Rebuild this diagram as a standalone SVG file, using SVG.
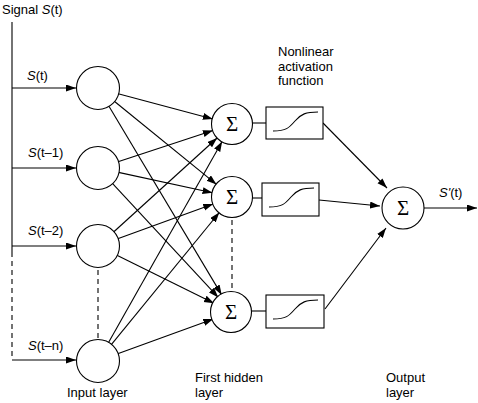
<svg xmlns="http://www.w3.org/2000/svg" width="478" height="403" viewBox="0 0 478 403">
<style>
  .ln { stroke:#000; stroke-width:1.1; fill:none; }
  .arr { stroke:#000; stroke-width:1.1; fill:none; marker-end:url(#ah); }
  .dash { stroke:#000; stroke-width:1.1; fill:none; stroke-dasharray:5,4; }
  .node { stroke:#000; stroke-width:1.1; fill:#fff; }
  .t { font-family:"Liberation Sans", Arial, sans-serif; font-size:13px; fill:#000; }
  .sig { font-family:"Liberation Serif", "DejaVu Serif", serif; font-size:21px; fill:#000; text-anchor:middle; }
</style>
<defs>
  <marker id="ah" markerUnits="userSpaceOnUse" markerWidth="11" markerHeight="8" refX="10" refY="3.5" orient="auto">
    <path d="M0,0 L10,3.5 L0,7 z" fill="#000"/>
  </marker>
  <path id="sigm" d="M7,24 C20,24 23,21 29,14 C35,7 40,5 52,5" stroke="#000" stroke-width="1.1" fill="none"/>
</defs>

<text class="t" x="2" y="14">Signal <tspan font-style="italic">S</tspan>(t)</text>

<g id="connectors">
  <line class="ln" x1="12" y1="22" x2="12" y2="252"/>
  <line class="dash" x1="12" y1="252" x2="12" y2="360"/>
  <line class="arr" x1="12" y1="88" x2="76" y2="88"/>
  <line class="arr" x1="12" y1="168" x2="76" y2="168"/>
  <line class="arr" x1="12" y1="246" x2="76" y2="246"/>
  <line class="arr" x1="12" y1="360" x2="76" y2="360"/>
  <line class="dash" x1="98" y1="270" x2="98" y2="338"/>
  <line class="dash" x1="232" y1="220" x2="232" y2="290"/>

  <line class="arr" x1="118.2" y1="93.7" x2="212.8" y2="119.0"/>
  <line class="arr" x1="114.3" y1="101.3" x2="216.5" y2="184.4"/>
  <line class="arr" x1="108.8" y1="106.0" x2="221.7" y2="294.9"/>
  <line class="arr" x1="118.0" y1="161.7" x2="212.9" y2="130.5"/>
  <line class="arr" x1="118.5" y1="172.4" x2="212.5" y2="192.8"/>
  <line class="arr" x1="112.4" y1="183.3" x2="218.3" y2="297.4"/>
  <line class="arr" x1="113.6" y1="232.0" x2="217.1" y2="138.0"/>
  <line class="arr" x1="117.7" y1="238.8" x2="213.2" y2="203.9"/>
  <line class="arr" x1="116.9" y1="255.2" x2="214.0" y2="303.3"/>
  <line class="arr" x1="108.4" y1="342.8" x2="222.1" y2="141.6"/>
  <line class="arr" x1="111.3" y1="344.7" x2="219.3" y2="212.5"/>
  <line class="arr" x1="117.7" y1="353.7" x2="213.3" y2="319.0"/>

  <line class="ln" x1="252" y1="123" x2="266" y2="123"/>
  <line class="ln" x1="252" y1="198" x2="262" y2="198"/>
  <line class="ln" x1="251" y1="311" x2="266" y2="311"/>

  <line class="arr" x1="323" y1="123" x2="387" y2="188"/>
  <line class="arr" x1="319" y1="200" x2="380" y2="206"/>
  <line class="arr" x1="325" y1="309" x2="386" y2="228"/>
  <line class="arr" x1="424" y1="208" x2="477" y2="208"/>
</g>

<g id="labels">
  <text class="t" x="27" y="80"><tspan font-style="italic">S</tspan>(t)</text>
  <text class="t" x="28" y="157"><tspan font-style="italic">S</tspan>(t–1)</text>
  <text class="t" x="28" y="235"><tspan font-style="italic">S</tspan>(t–2)</text>
  <text class="t" x="28" y="350"><tspan font-style="italic">S</tspan>(t–n)</text>
  <text class="t" x="439" y="197"><tspan font-style="italic">S'</tspan>(t)</text>
  <text class="t" x="278" y="56">Nonlinear</text>
  <text class="t" x="278" y="70.5">activation</text>
  <text class="t" x="278" y="85">function</text>
  <text class="t" x="67" y="397">Input layer</text>
  <text class="t" x="195" y="382">First hidden</text>
  <text class="t" x="195" y="397">layer</text>
  <text class="t" x="386" y="382">Output</text>
  <text class="t" x="386" y="397">layer</text>
</g>

<g id="in1"><circle class="node" cx="98" cy="88" r="21.5"/></g>
<g id="in2"><circle class="node" cx="98" cy="168" r="21.5"/></g>
<g id="in3"><circle class="node" cx="98" cy="246" r="21.5"/></g>
<g id="in4"><circle class="node" cx="98" cy="361" r="21.5"/></g>

<g id="h1"><circle class="node" cx="232" cy="124" r="20.5"/><text class="sig" x="232" y="131">Σ</text></g>
<g id="h2"><circle class="node" cx="232" cy="197" r="20.5"/><text class="sig" x="232" y="204">Σ</text></g>
<g id="h3"><circle class="node" cx="231" cy="312" r="20.5"/><text class="sig" x="231" y="319">Σ</text></g>

<g id="act1"><rect class="node" x="266" y="107" width="57" height="32"/><use href="#sigm" transform="translate(266,107)"/></g>
<g id="act2"><rect class="node" x="262" y="183" width="57" height="33"/><use href="#sigm" transform="translate(262,183)"/></g>
<g id="act3"><rect class="node" x="266" y="295" width="58" height="33"/><use href="#sigm" transform="translate(266,295)"/></g>

<g id="out"><circle class="node" cx="403" cy="208" r="21"/><text class="sig" x="403" y="215">Σ</text></g>
</svg>
